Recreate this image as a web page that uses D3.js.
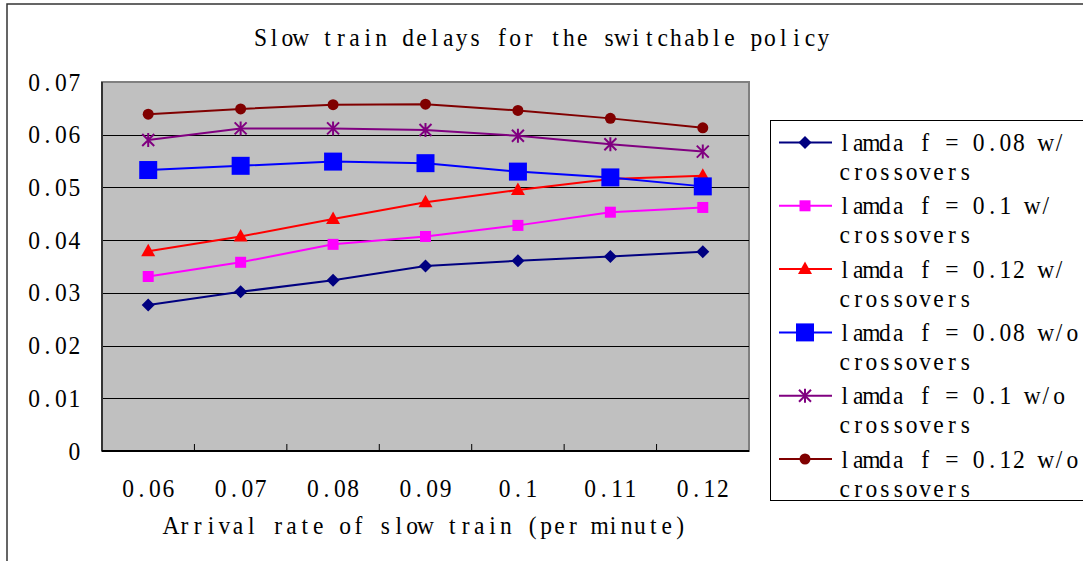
<!DOCTYPE html>
<html>
  <head>
    <meta charset="utf-8" />
    <title>Slow train delays for the switchable policy</title>
    <script src="https://d3js.org/d3.v7.min.js"></script>
    <style>
      body {
        margin: 0;
        background: white;
      }
      text {
        font-family: "Liberation Serif", "DejaVu Serif", serif;
        font-size: 25px;
        fill: #000;
        white-space: pre;
      }
    </style>
  </head>
  <body>
    <svg id="chart" width="1083" height="561"></svg>

    <script>
      // data
      const categories = ["0.06", "0.07", "0.08", "0.09", "0.1", "0.11", "0.12"];
      const yTicks = [0, 0.01, 0.02, 0.03, 0.04, 0.05, 0.06, 0.07];
      const seriesNames = [
        "lamda f = 0.08 w/",
        "lamda f = 0.1 w/",
        "lamda f = 0.12 w/",
        "lamda f = 0.08 w/o",
        "lamda f = 0.1 w/o",
        "lamda f = 0.12 w/o",
      ];
      const f008With = [0.0277, 0.0302, 0.0324, 0.0351, 0.0361, 0.0369, 0.0378];
      const f010With = [0.0331, 0.0358, 0.0392, 0.0407, 0.0428, 0.0453, 0.0462];
      const f012With = [0.0379, 0.0407, 0.044, 0.0472, 0.0495, 0.0516, 0.0522];
      const f008Without = [0.0533, 0.0541, 0.0549, 0.0546, 0.053, 0.0519, 0.0502];
      const f010Without = [0.059, 0.0612, 0.0612, 0.0609, 0.0598, 0.0582, 0.0568];
      const f012Without = [0.0639, 0.0649, 0.0657, 0.0658, 0.0646, 0.0631, 0.0613];

      const allValues = [f008With, f010With, f012With, f008Without, f010Without, f012Without];
      const colors = ["#000080", "#ff00ff", "#ff0000", "#0000ff", "#800080", "#800000"];
      const shapes = ["diamond", "square", "triangle", "bigsquare", "star", "circle"];

      const svg = d3.select("#chart");
      const charW = 13.4; // every character takes one fixed cell, like the original font
      const squeeze = 0.94;

      // draws a string with one fixed-width cell per character
      function monoText(parent, str, x, y, anchor) {
        const n = str.length;
        let x0 = x;
        if (anchor === "middle") x0 = x - (n * charW) / 2;
        if (anchor === "end") x0 = x - n * charW;
        const xs = d3.range(n).map((i) => (((i + 0.5) * charW) / squeeze).toFixed(2));
        return parent
          .append("text")
          .attr("transform", "translate(" + x0 + "," + y + ") scale(" + squeeze + ",1)")
          .attr("x", xs.join(" "))
          .attr("y", 0)
          .attr("dy", "0.34em")
          .attr("text-anchor", "middle")
          .text(str);
      }

      // outer frame
      svg
        .append("rect")
        .attr("x", 7)
        .attr("y", 4)
        .attr("width", 1100)
        .attr("height", 600)
        .attr("fill", "none")
        .attr("stroke", "#333")
        .attr("stroke-width", 1.5);

      const plot = { left: 102, right: 749, top: 82, bottom: 451 };

      const x = d3.scaleBand().domain(categories).range([plot.left, plot.right]);
      const y = d3.scaleLinear().domain([0, 0.07]).range([plot.bottom, plot.top]);

      // plot background
      svg
        .append("rect")
        .attr("x", plot.left)
        .attr("y", plot.top)
        .attr("width", plot.right - plot.left)
        .attr("height", plot.bottom - plot.top)
        .attr("fill", "#c0c0c0")
        .attr("stroke", "#808080")
        .attr("stroke-width", 2);

      // gridlines
      svg
        .selectAll("line.grid")
        .data(yTicks.filter((d) => d > 0 && d < 0.07))
        .join("line")
        .attr("class", "grid")
        .attr("x1", plot.left)
        .attr("x2", plot.right)
        .attr("y1", (d) => Math.round(y(d)) + 0.5)
        .attr("y2", (d) => Math.round(y(d)) + 0.5)
        .attr("stroke", "#000")
        .attr("stroke-width", 1);

      // axis lines
      svg
        .append("line")
        .attr("x1", plot.left)
        .attr("x2", plot.left)
        .attr("y1", plot.top)
        .attr("y2", plot.bottom)
        .attr("stroke", "#333")
        .attr("stroke-width", 2);
      svg
        .append("line")
        .attr("x1", plot.left)
        .attr("x2", plot.right)
        .attr("y1", plot.bottom)
        .attr("y2", plot.bottom)
        .attr("stroke", "#000")
        .attr("stroke-width", 2);

      // category boundary ticks (pointing inward)
      svg
        .selectAll("line.xtick")
        .data(categories.slice(1))
        .join("line")
        .attr("class", "xtick")
        .attr("x1", (d) => x(d))
        .attr("x2", (d) => x(d))
        .attr("y1", plot.bottom - 7)
        .attr("y2", plot.bottom)
        .attr("stroke", "#000")
        .attr("stroke-width", 1);

      // y tick labels
      yTicks.forEach((d) => {
        monoText(svg, d === 0 ? "0" : d.toFixed(2), 81, y(d), "end");
      });

      // x tick labels
      categories.forEach((d) => {
        monoText(svg, d, x(d) + x.bandwidth() / 2, 488, "middle");
      });

      // titles
      monoText(svg, "Slow train delays for the switchable policy", 542, 37, "middle");
      monoText(svg, "Arrival rate of slow train (per minute)", (plot.left + plot.right) / 2, 525, "middle");

      // marker paths
      function markerPath(shape) {
        switch (shape) {
          case "diamond":
            return "M0,-6.5L6.5,0L0,6.5L-6.5,0Z";
          case "square":
            return "M-5.5,-5.5H5.5V5.5H-5.5Z";
          case "bigsquare":
            return "M-9,-9H9V9H-9Z";
          case "triangle":
            return "M0,-7.5L7,5L-7,5Z";
          case "circle":
            return d3.symbol(d3.symbolCircle, 95)();
          case "star":
            return "M0,-7V7M-6,-6L6,6M6,-6L-6,6";
        }
      }

      const line = d3
        .line()
        .x((d, i) => x(categories[i]) + x.bandwidth() / 2)
        .y((d) => y(d));

      allValues.forEach((vals, k) => {
        svg
          .append("path")
          .attr("d", line(vals))
          .attr("fill", "none")
          .attr("stroke", colors[k])
          .attr("stroke-width", 2);
      });

      allValues.forEach((vals, k) => {
        svg
          .selectAll("path.m" + k)
          .data(vals)
          .join("path")
          .attr("class", "m" + k)
          .attr("transform", (d, i) => "translate(" + (x(categories[i]) + x.bandwidth() / 2) + "," + y(d) + ")")
          .attr("d", markerPath(shapes[k]))
          .attr("fill", shapes[k] === "star" ? "none" : colors[k])
          .attr("stroke", colors[k])
          .attr("stroke-width", shapes[k] === "star" ? 2 : 0);
      });

      // legend (its right edge runs past the picture, as in the original)
      const legend = svg.append("g");
      legend
        .append("rect")
        .attr("x", 770.5)
        .attr("y", 120.5)
        .attr("width", 330)
        .attr("height", 380)
        .attr("fill", "white")
        .attr("stroke", "#000")
        .attr("stroke-width", 1);

      seriesNames.forEach((name, k) => {
        const cy = 142.5 + k * 63.3;
        legend
          .append("line")
          .attr("x1", 779)
          .attr("x2", 832)
          .attr("y1", cy)
          .attr("y2", cy)
          .attr("stroke", colors[k])
          .attr("stroke-width", 2);
        legend
          .append("path")
          .attr("transform", "translate(805," + cy + ")")
          .attr("d", markerPath(shapes[k]))
          .attr("fill", shapes[k] === "star" ? "none" : colors[k])
          .attr("stroke", colors[k])
          .attr("stroke-width", shapes[k] === "star" ? 2 : 0);
        monoText(legend, name, 838, cy, "start");
        monoText(legend, "crossovers", 838, cy + 29, "start");
      });
    </script>
  </body>
</html>
